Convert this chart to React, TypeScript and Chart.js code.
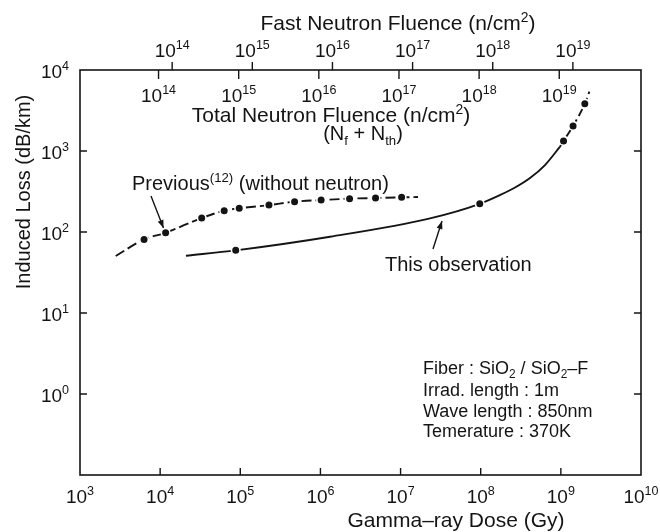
import React, { useEffect, useRef } from 'react';
import Chart from 'chart.js/auto';

// ---- tick exponents ----
const gammaExponents = [3, 4, 5, 6, 7, 8, 9, 10];
const lossExponents = [0, 1, 2, 3, 4];
const fastFluenceExponents = [14, 15, 16, 17, 18, 19];
const totalFluenceExponents = [14, 15, 16, 17, 18, 19];
// log10(fluence) - log10(gamma dose) for the two neutron axes
const fastFluenceOffset = 9.85;
const totalFluenceOffset = 10.02;

// ---- Previous (without neutron) ----
const previousDotDose = [6300, 11700, 33000, 63000, 97000, 228000, 476000, 1.02e6, 2.31e6, 4.87e6, 1.03e7];
const previousDotLoss = [81, 98, 149, 183, 196, 215, 237, 248, 258, 263, 268];
const previousCurveDose = [2790, 6300, 11700, 33000, 63000, 97000, 228000, 476000, 1.02e6, 2.31e6, 4.87e6, 1.03e7, 1.65e7];
const previousCurveLoss = [50.6, 81, 98, 149, 183, 196, 215, 237, 248, 258, 263, 268, 270];

// ---- This observation ----
const obsSolidDose = [21000, 87700, 1.32e6, 2.33e7, 9.73e7, 1.74e8, 2.68e8, 4.12e8, 6.34e8, 9.77e8];
const obsSolidLoss = [51, 59.4, 87.5, 147.5, 223, 286, 354, 464, 671, 1130];
const obsDashDose = [9.77e8, 1.08e9, 1.42e9, 1.99e9, 2.27e9];
const obsDashLoss = [1130, 1330, 2040, 3840, 5400];
const obsDotDose = [87700, 9.73e7, 1.08e9, 1.42e9, 1.99e9];
const obsDotLoss = [59.4, 223, 1330, 2040, 3840];

const INK = '#141414';
const FONT = "'Liberation Sans', Arial, Helvetica, sans-serif";

type Seg = { t: string; sup?: boolean; sub?: boolean };

function richWidth(ctx: CanvasRenderingContext2D, segs: Seg[], size: number) {
  let w = 0;
  for (const s of segs) {
    const fs = s.sup || s.sub ? size * 0.66 : size;
    ctx.font = `${fs}px ${FONT}`;
    w += ctx.measureText(s.t).width;
  }
  return w;
}

function drawRich(ctx: CanvasRenderingContext2D, segs: Seg[], x: number, baseline: number, size: number, align: 'left' | 'center' | 'right' = 'left') {
  const w = richWidth(ctx, segs, size);
  let cx = align === 'left' ? x : align === 'center' ? x - w / 2 : x - w;
  ctx.textAlign = 'left';
  ctx.textBaseline = 'alphabetic';
  ctx.fillStyle = INK;
  for (const s of segs) {
    const fs = s.sup || s.sub ? size * 0.66 : size;
    ctx.font = `${fs}px ${FONT}`;
    const dy = s.sup ? -size * 0.4 : s.sub ? size * 0.24 : 0;
    ctx.fillText(s.t, cx, baseline + dy);
    cx += ctx.measureText(s.t).width;
  }
}

const pow = (e: number): Seg[] => [{ t: '10' }, { t: String(e), sup: true }];

function arrow(ctx: CanvasRenderingContext2D, x0: number, y0: number, x1: number, y1: number) {
  ctx.beginPath();
  ctx.moveTo(x0, y0);
  ctx.lineTo(x1, y1);
  ctx.lineWidth = 1.4;
  ctx.strokeStyle = INK;
  ctx.stroke();
  const ang = Math.atan2(y1 - y0, x1 - x0);
  const L = 8, H = 3;
  ctx.beginPath();
  ctx.moveTo(x1, y1);
  ctx.lineTo(x1 - L * Math.cos(ang) + H * Math.sin(ang), y1 - L * Math.sin(ang) - H * Math.cos(ang));
  ctx.lineTo(x1 - L * Math.cos(ang) - H * Math.sin(ang), y1 - L * Math.sin(ang) + H * Math.cos(ang));
  ctx.closePath();
  ctx.fillStyle = INK;
  ctx.fill();
}

const framePlugin = {
  id: 'framePlugin',
  afterDatasetsDraw(chart: any) {
    const { ctx, chartArea: a, scales } = chart;
    const sx = scales.x, sy = scales.y, sf = scales.xFast, st = scales.xTotal;
    ctx.save();
    ctx.strokeStyle = INK;
    ctx.lineWidth = 1.6;
    ctx.setLineDash([]);
    ctx.strokeRect(a.left, a.top, a.right - a.left, a.bottom - a.top);

    const TL = 7;
    ctx.lineWidth = 1.4;
    // bottom axis (gamma dose) - inward ticks
    for (const e of gammaExponents) {
      const px = sx.getPixelForValue(Math.pow(10, e));
      if (px > a.left + 1 && px < a.right - 1) {
        ctx.beginPath();
        ctx.moveTo(px, a.bottom);
        ctx.lineTo(px, a.bottom - TL);
        ctx.stroke();
      }
      drawRich(ctx, pow(e), px, a.bottom + 28, 19, 'center');
    }
    // left & right axis - inward ticks
    for (const e of lossExponents) {
      const py = sy.getPixelForValue(Math.pow(10, e));
      if (py > a.top + 1) {
        ctx.beginPath();
        ctx.moveTo(a.left, py);
        ctx.lineTo(a.left + TL, py);
        ctx.moveTo(a.right, py);
        ctx.lineTo(a.right - TL, py);
        ctx.stroke();
      }
      drawRich(ctx, pow(e), a.left - 11, py + 8, 19, 'right');
    }
    // top: fast neutron fluence - outward ticks
    for (const e of fastFluenceExponents) {
      const px = sf.getPixelForValue(Math.pow(10, e));
      ctx.beginPath();
      ctx.moveTo(px, a.top);
      ctx.lineTo(px, a.top - 8);
      ctx.stroke();
      drawRich(ctx, pow(e), px, a.top - 13, 19, 'center');
    }
    // top: total neutron fluence - inward ticks
    for (const e of totalFluenceExponents) {
      const px = st.getPixelForValue(Math.pow(10, e));
      ctx.beginPath();
      ctx.moveTo(px, a.top);
      ctx.lineTo(px, a.top + 9);
      ctx.stroke();
      drawRich(ctx, pow(e), px, a.top + 32, 19, 'center');
    }

    // axis titles
    drawRich(ctx, [{ t: 'Fast Neutron Fluence (n/cm' }, { t: '2', sup: true }, { t: ')' }], 398, 30, 21, 'center');
    drawRich(ctx, [{ t: 'Total Neutron Fluence (n/cm' }, { t: '2', sup: true }, { t: ')' }], 331, 122, 21, 'center');
    drawRich(ctx, [{ t: '(N' }, { t: 'f', sub: true }, { t: ' + N' }, { t: 'th', sub: true }, { t: ')' }], 363, 140, 20, 'center');
    drawRich(ctx, [{ t: 'Gamma\u2013ray Dose (Gy)' }], 456, 527, 21, 'center');
    ctx.save();
    ctx.translate(30, 192);
    ctx.rotate(-Math.PI / 2);
    drawRich(ctx, [{ t: 'Induced Loss (dB/km)' }], 0, 0, 20, 'center');
    ctx.restore();

    // annotations
    drawRich(ctx, [{ t: 'Previous' }, { t: '(12)', sup: true }, { t: ' (without neutron)' }], 132, 190, 20, 'left');
    arrow(ctx, 151, 196, 163.5, 228);
    drawRich(ctx, [{ t: 'This observation' }], 385, 271, 20, 'left');
    arrow(ctx, 433, 249, 442, 221);

    drawRich(ctx, [{ t: 'Fiber : SiO' }, { t: '2', sub: true }, { t: ' / SiO' }, { t: '2', sub: true }, { t: '\u2013F' }], 423, 374, 18, 'left');
    drawRich(ctx, [{ t: 'Irrad. length : 1m' }], 423, 396, 18, 'left');
    drawRich(ctx, [{ t: 'Wave length : 850nm' }], 423, 417, 18, 'left');
    drawRich(ctx, [{ t: 'Temerature : 370K' }], 423, 437, 18, 'left');
    ctx.restore();
  },
};

const pts = (xs: number[], ys: number[]) => xs.map((x, i) => ({ x, y: ys[i] }));

export default function App() {
  const ref = useRef<HTMLCanvasElement | null>(null);
  useEffect(() => {
    if (!ref.current) return;
    const dotStyle = {
      showLine: false,
      pointRadius: 4.3,
      pointBackgroundColor: INK,
      pointBorderColor: '#ffffff',
      pointBorderWidth: 1.6,
    };
    const curveStyle = {
      pointRadius: 0,
      borderColor: INK,
      borderWidth: 1.9,
      cubicInterpolationMode: 'monotone' as const,
      fill: false,
    };
    const chart = new Chart(ref.current, {
      type: 'line',
      data: {
        datasets: [
          { label: 'prevDots', data: pts(previousDotDose, previousDotLoss), ...dotStyle },
          { label: 'obsDots', data: pts(obsDotDose, obsDotLoss), ...dotStyle },
          { label: 'prevCurve', data: pts(previousCurveDose, previousCurveLoss), ...curveStyle, borderDash: [10, 4] },
          { label: 'obsSolid', data: pts(obsSolidDose, obsSolidLoss), ...curveStyle },
          { label: 'obsDash', data: pts(obsDashDose, obsDashLoss), ...curveStyle, borderDash: [8, 4] },
        ],
      } as any,
      options: {
        animation: false,
        responsive: false,
        devicePixelRatio: 1,
        layout: { padding: { left: 80, right: 19, top: 70, bottom: 57 } },
        plugins: { legend: { display: false }, tooltip: { enabled: false }, title: { display: false } },
        scales: {
          x: { type: 'logarithmic', min: 1e3, max: 1e10, display: false },
          y: { type: 'logarithmic', min: 0.1, max: 1e4, display: false },
          xFast: {
            type: 'logarithmic', axis: 'x', position: 'top', display: false,
            min: Math.pow(10, 3 + fastFluenceOffset), max: Math.pow(10, 10 + fastFluenceOffset),
          },
          xTotal: {
            type: 'logarithmic', axis: 'x', position: 'top', display: false,
            min: Math.pow(10, 3 + totalFluenceOffset), max: Math.pow(10, 10 + totalFluenceOffset),
          },
        },
      } as any,
      plugins: [framePlugin],
    });
    return () => chart.destroy();
  }, []);
  return (
    <div style={{ position: 'fixed', left: 0, top: 0, width: 660, height: 532, background: '#fff' }}>
      <canvas ref={ref} width={660} height={532} style={{ display: 'block', width: 660, height: 532 }} />
    </div>
  );
}
